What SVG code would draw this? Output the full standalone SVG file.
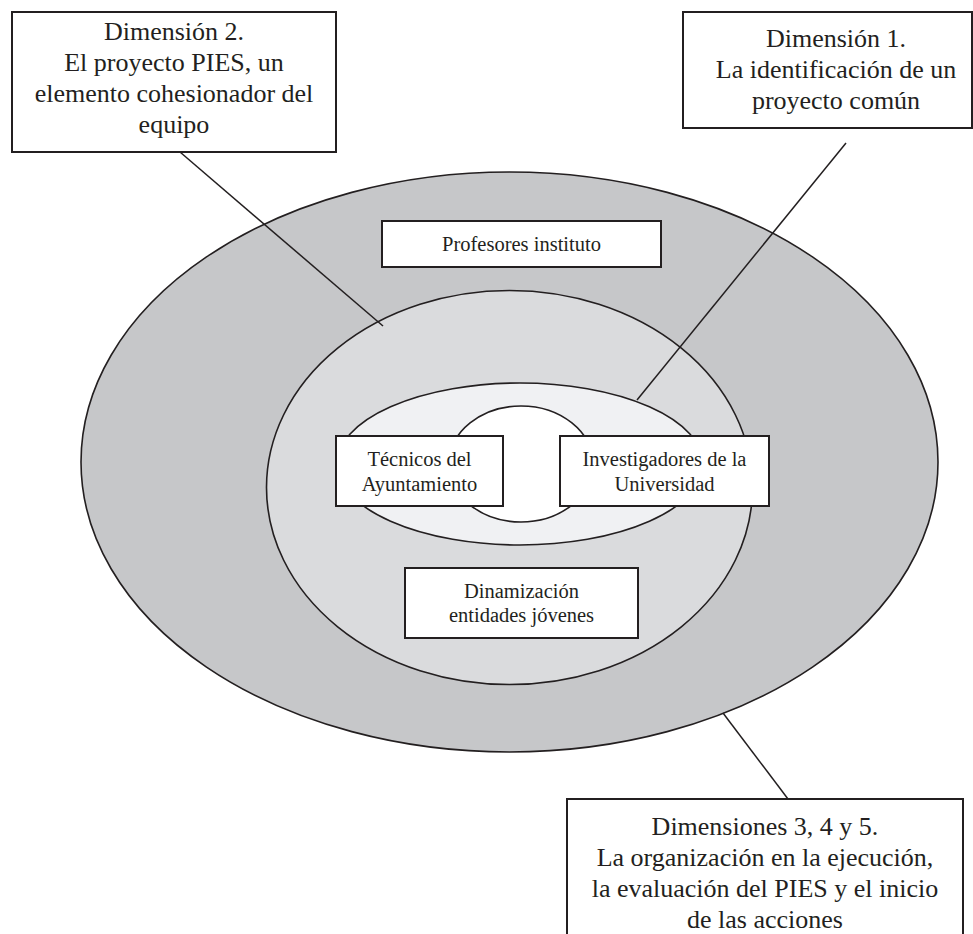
<svg xmlns="http://www.w3.org/2000/svg" width="973" height="934" viewBox="0 0 973 934">
<style>
.ring{stroke:#231f20;stroke-width:1.6}
.box{fill:#ffffff;stroke:#231f20;stroke-width:2}
.conn{stroke:#231f20;stroke-width:1.5;fill:none}
.big{font-size:26px}
.small{font-size:20.5px}
</style>
<rect x="0" y="0" width="973" height="934" fill="#ffffff"/>
<g id="outer-ring"><ellipse class="ring" cx="509.5" cy="462" rx="428.5" ry="290" fill="#c6c7c9"/></g>
<g id="middle-ring"><ellipse class="ring" cx="509.5" cy="487.5" rx="243" ry="197" fill="#dadbdd"/></g>
<g id="inner-ring"><ellipse class="ring" cx="520" cy="464" rx="183" ry="81" fill="#f0f1f3"/></g>
<g id="core"><ellipse class="ring" cx="521" cy="464" rx="72" ry="58" fill="#ffffff"/></g>
<g id="connectors">
<line class="conn" x1="180" y1="152" x2="383" y2="326"/>
<line class="conn" x1="846" y1="143" x2="637" y2="400"/>
<line class="conn" x1="723" y1="713" x2="788" y2="799"/>
</g>
<g font-family="'Liberation Serif', 'DejaVu Serif', 'Noto Serif', serif" fill="#231f20" text-anchor="middle">
<g id="dim2">
<rect class="box" x="12" y="12" width="324" height="140"/>
<text class="big" x="174" y="40">Dimensión 2.</text>
<text class="big" x="174" y="71">El proyecto PIES, un</text>
<text class="big" x="174" y="102">elemento cohesionador del</text>
<text class="big" x="174" y="133">equipo</text>
</g>
<g id="dim1">
<rect class="box" x="683" y="12" width="289" height="116"/>
<text class="big" x="836" y="47">Dimensión 1.</text>
<text class="big" x="836" y="78">La identificación de un</text>
<text class="big" x="836" y="109">proyecto común</text>
</g>
<g id="dim345">
<rect class="box" x="567" y="799" width="396" height="150"/>
<text class="big" x="765" y="835">Dimensiones 3, 4 y 5.</text>
<text class="big" x="765" y="866">La organización en la ejecución,</text>
<text class="big" x="765" y="897">la evaluación del PIES y el inicio</text>
<text class="big" x="765" y="928">de las acciones</text>
</g>
<g id="profesores">
<rect class="box" x="382" y="221" width="279" height="46"/>
<text class="small" x="521.5" y="251">Profesores instituto</text>
</g>
<g id="tecnicos">
<rect class="box" x="336" y="436" width="167" height="70"/>
<text class="small" x="419.5" y="466">Técnicos del</text>
<text class="small" x="419.5" y="491">Ayuntamiento</text>
</g>
<g id="investigadores">
<rect class="box" x="560" y="436" width="209" height="70"/>
<text class="small" x="664.5" y="466">Investigadores de la</text>
<text class="small" x="664.5" y="491">Universidad</text>
</g>
<g id="dinamizacion">
<rect class="box" x="405" y="568" width="233" height="70"/>
<text class="small" x="521.5" y="598">Dinamización</text>
<text class="small" x="521.5" y="622">entidades jóvenes</text>
</g>
</g>
</svg>
